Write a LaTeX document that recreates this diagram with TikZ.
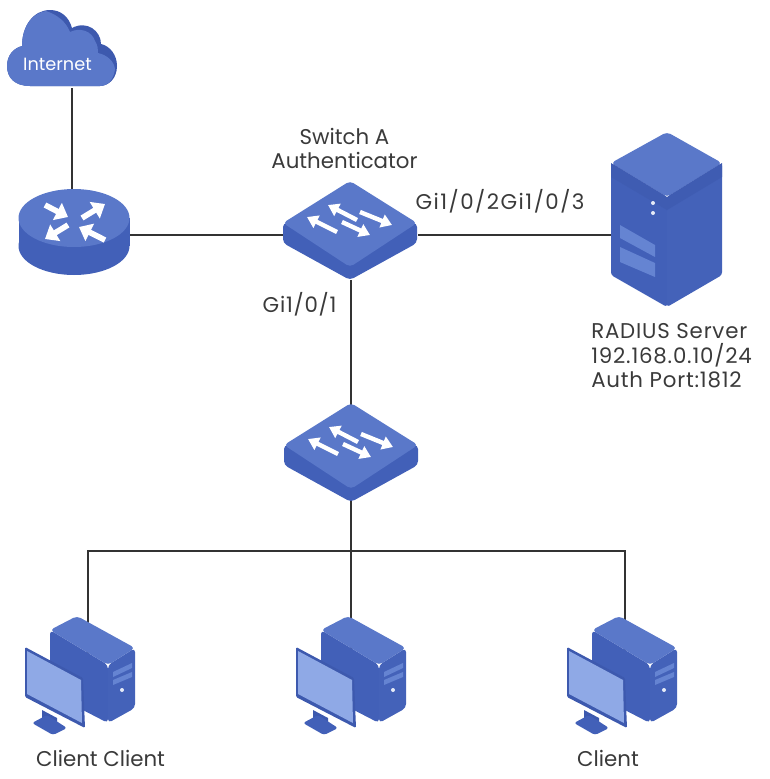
\documentclass[tikz,border=0pt]{standalone}
\usepackage{fontspec}
\setmainfont{Poppins}
\usepackage{tikz}
\usetikzlibrary{arrows.meta}

\definecolor{icontopc}{HTML}{5A78C9}
\definecolor{iconsidec}{HTML}{4260B8}
\definecolor{icondarkc}{HTML}{3D59AE}
\definecolor{iconlightc}{HTML}{8FA9E6}
\definecolor{iconslotc}{HTML}{6584D2}
\definecolor{linkc}{HTML}{333333}
\definecolor{labelc}{HTML}{3A3A3A}

\tikzset{
    link/.style = {draw=linkc, line width=1.7pt},
    devicebox/.style = {inner sep=0pt, minimum width=#1},
    routerbox/.style = {devicebox=84pt, minimum height=67.5pt},
    switchbox/.style = {devicebox=100.5pt, minimum height=67.5pt},
    serverbox/.style = {devicebox=83.25pt, minimum height=108pt},
    clientbox/.style = {devicebox=84pt, minimum height=96pt},
    cloudbox/.style = {devicebox=82.5pt, minimum height=58.5pt},
    lbl/.style = {inner sep=0pt, text=labelc, font=\fontsize{16}{18.4}\selectfont\addfontfeature{LetterSpace=#1}},
    lbl/.default = 0,
    switcharrow/.style = {-{Triangle[length=8pt,width=10pt]}, draw=white, line width=3.3pt},
    routerarrow/.style = {-{Triangle[length=9pt,width=14pt]}, draw=white, line width=4.2pt},
    % icons, offsets are in pixels from the middle of the node
    switchicon/.pic = {
        \fill[iconsidec, rounded corners=3pt] (-67,-12) -- (-67,8) -- (0,45) -- (67,8) -- (67,-12) -- cycle;
        \fill[icontopc, rounded corners=3pt] (0,-54) -- (67,-12) -- (0,32) -- (-67,-12) -- cycle;
        \draw[switcharrow] (-13,-3) -- (-43,-18);
        \draw[switcharrow] (-8,-13) -- (20,0);
        \draw[switcharrow] (7,-15) -- (-22,-30);
        \draw[switcharrow] (10,-23) -- (42,-10);
    },
    routericon/.pic = {
        \fill[iconsidec] (2,11) ellipse (55.5 and 29);
        \fill[iconsidec] (-53.5,-17) rectangle (57.5,11);
        \fill[icontopc] (2,-17) ellipse (55.5 and 29);
        \draw[routerarrow] (-27,-30) -- (-4,-18);
        \draw[routerarrow] (10,-17) -- (33,-31);
        \draw[routerarrow] (-4,-10) -- (-27,4);
        \draw[routerarrow] (33,5) -- (7,-8);
    },
    servericon/.pic = {
        \fill[icontopc, rounded corners=3pt] (-56,-72) -- (0,-103) -- (55,-72) -- (0,-38) -- cycle;
        \fill[iconsidec, rounded corners=2pt] (-56,-72) -- (0,-38) -- (0,72) -- (-56,40) -- cycle;
        \fill[iconsidec!92!icontopc, rounded corners=2pt] (55,-72) -- (0,-38) -- (0,72) -- (55,40) -- cycle;
        \fill[icondarkc!60!iconsidec] (-56,-58) -- (0,-25) -- (55,-58) -- (55,-72) -- (0,-38) -- (-56,-72) -- cycle;
        \fill[iconslotc] (-47,-10) -- (-12,10) -- (-12,22) -- (-47,3) -- cycle;
        \fill[iconslotc] (-47,12) -- (-12,28) -- (-12,42) -- (-47,27) -- cycle;
        \fill[white!85!icontopc] (-14,-32) circle (2);
        \fill[white!85!icontopc] (-14,-22) circle (2);
    },
    clienticon/.pic = {
        \fill[iconsidec, rounded corners=3pt] (-29,-50) -- (29,-15) -- (29,43) -- (-29,13) -- cycle;
        \fill[iconsidec!92!icontopc, rounded corners=3pt] (29,-15) -- (56,-32) -- (56,28) -- (29,43) -- cycle;
        \fill[icontopc, rounded corners=3pt] (-29,-50) -- (-2,-64) -- (56,-32) -- (29,-15) -- cycle;
        \fill[iconslotc] (34,-8) -- (53,-17) -- (53,-12) -- (34,-3) -- cycle;
        \fill[iconslotc] (34,0) -- (53,-8) -- (53,-3) -- (34,5) -- cycle;
        \fill[white!85!icontopc] (43,10) circle (2);
        \fill[icondarkc] (-37,30) -- (-22,38) -- (-22,44) -- (-37,38) -- cycle;
        \fill[iconsidec, rounded corners=2pt] (-47,43) -- (-32,35) -- (-12,48) -- (-26,55) -- cycle;
        \fill[icondarkc, rounded corners=1pt] (-54,-33) -- (4,-2) -- (6,48) -- (-54,17) -- cycle;
        \fill[iconlightc] (-52,-29) -- (2,0) -- (3,43) -- (-52,14) -- cycle;
    },
    cloudicon/.pic = {
        % back layer
        \fill[icondarkc] (-32,37) .. controls (-48,37) and (-55,28) .. (-55,17) .. controls (-55,6) and (-48,-1) .. (-40,-3)
            .. controls (-40,-24) and (-28,-39) .. (-12,-39) .. controls (-1,-39) and (7,-32) .. (10,-21)
            .. controls (25,-29) and (39,-18) .. (39,-5) .. controls (48,-3) and (55,6) .. (55,17)
            .. controls (55,29) and (47,37) .. (38,37) -- cycle;
        % front layer
        \fill[icontopc] (-32,37) .. controls (-48,37) and (-55,28) .. (-55,17) .. controls (-55,6) and (-48,-1) .. (-40,-3)
            .. controls (-40,-22) and (-30,-36) .. (-16,-38) .. controls (-4,-34) and (4,-27) .. (8,-17)
            .. controls (18,-22) and (30,-18) .. (33,-8) .. controls (36,-3) and (36,0) .. (36,4)
            .. controls (45,6) and (52,12) .. (53,20) .. controls (52,30) and (46,37) .. (38,37) -- cycle;
    }
}

\begin{document}
\begin{tikzpicture}[
            x = 0.75pt, % one unit is one pixel of the reference
            y = -0.75pt,
            semithick
        ]

    \useasboundingbox (0,0) rectangle (770,779);

    \node[routerbox] (R) at (72,235) {};
    \node[cloudbox] (C) at (62,49) {};
    \node[switchbox] (S) [right of=R, node distance=209.25pt] {};
    \node[serverbox] (D) [right of=S, node distance=237pt] {};
    \node[switchbox] (B) at (351,457) {};
    \coordinate (J) at (351,551);
    \node[clientbox] (E) at (88,680) {};
    \node[clientbox] (F) [right of=E, node distance=197.25pt] {};
    \node[clientbox] (G) [right of=F, node distance=205.5pt] {};

    % links go first, the icons hide their ends
    \draw[link] (C.south -| R.north) -- (R.north);
    \draw[link] (R.east) -- (S.west);
    \draw[link] (S.east) -- (D.west);
    \draw[link] (S.south) -- (B.center);
    \draw[link] (B.center) -- (J);
    \draw[link] (E.center) |- (J);
    \draw[link] (G.center) |- (J);
    \draw[link] (J) -- (F.center);

    \pic at (C) {cloudicon};
    \pic at (R) {routericon};
    \pic at ([xshift=-0.75pt]S.center) {switchicon};
    \pic at (B) {switchicon};
    \pic at (D) {servericon};
    \pic at ([xshift=-6.75pt]E.center) {clienticon};
    \pic at ([xshift=-0.75pt]F.center) {clienticon};
    \pic at ([xshift=-3pt]G.center) {clienticon};

    \node[lbl, text=white, font=\fontsize{13.3}{14}\selectfont] (N) [left of=C, node distance=3.4pt, yshift=-11.25pt] {Internet};
    \node[lbl, align=center] (SL) [above of=S, node distance=64.9pt, xshift=-4.9pt] {Switch A\\Authenticator};
    \node[lbl=7] (P) [right of=S, node distance=111.75pt, yshift=25.5pt] {Gi1/0/2Gi1/0/3};
    \node[lbl=3.5] (Q) [below of=S, node distance=51.75pt, xshift=-38.6pt] {Gi1/0/1};
    \node[lbl=3.75, align=left] (DL) [below of=D, node distance=90.75pt, xshift=3.4pt] {RADIUS Server\\192.168.0.10/24\\Auth Port:1812};
    \node[lbl] (EL) [below of=E, node distance=58.5pt, xshift=9.4pt] {Client Client};
    \node[lbl] (GL) [below of=G, node distance=58.5pt, xshift=-12.75pt] {Client};
\end{tikzpicture}
\end{document}
